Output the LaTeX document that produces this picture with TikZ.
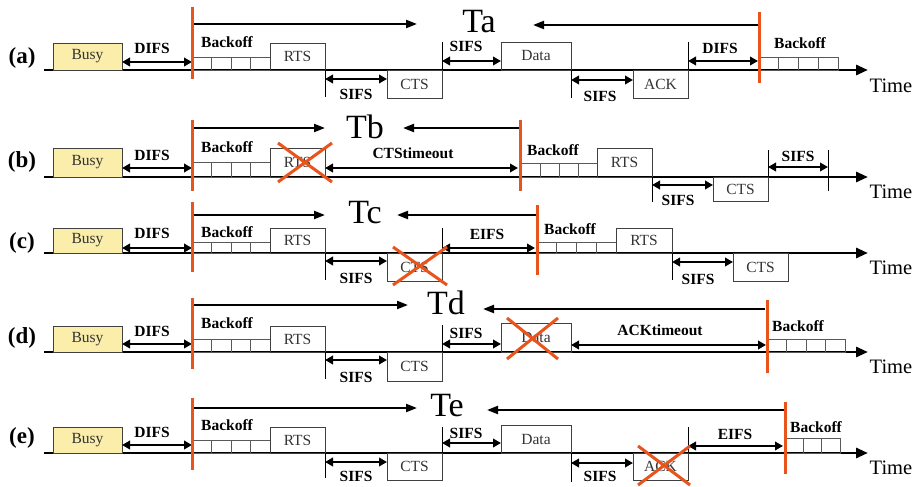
\documentclass[tikz,border=0pt]{standalone}
\usepackage{fontspec}
\setmainfont{Liberation Serif}
\usetikzlibrary{arrows.meta}
\definecolor{busyc}{RGB}{251,237,170}
\definecolor{orc}{RGB}{232,84,28}
\tikzset{
 tline/.style={line width=2.9pt,-{Triangle[length=12pt,width=10pt]}},
 dbl/.style={line width=2.7pt,{Triangle[length=8pt,width=8.5pt]}-{Triangle[length=8pt,width=8.5pt]}},
 topar/.style={line width=2.1pt,-{Triangle[length=11pt,width=8pt]}},
 orl/.style={draw=orc,line width=3pt},
 tick/.style={line width=1pt},
 frm/.style={draw=black!75,line width=0.8pt,inner sep=0pt,text=black!80,font=\fontsize{15.5}{15.5}\selectfont},
 busybox/.style={frm,fill=busyc},
 slotst/.style={draw=black!65,line width=0.7pt},
 blab/.style={font=\bfseries\fontsize{15.5}{15.5}\selectfont,inner sep=0pt},
 bigT/.style={font=\fontsize{34}{34}\selectfont,inner sep=0pt},
 timel/.style={font=\fontsize{20.5}{20.5}\selectfont,inner sep=0pt},
 rowl/.style={font=\bfseries\fontsize{23}{23}\selectfont,inner sep=0pt},
}
\newcommand\pbox[7][frm]{\node[#1,minimum width={(#5-#3)*1pt},minimum height={(#6-#4)*1pt}] (#2) at ({(#3+#5)/2},{(#4+#6)/2}) {\raisebox{-1.5pt}{#7}};}
\newcommand\bkslots[5]{\foreach \i in {1,...,#4}{\draw[slotst] ({#1+(\i-1)*#5},#2) rectangle ({#1+\i*#5},#3);}}
\begin{document}
\begin{tikzpicture}[x=1pt,y=-1pt]
\useasboundingbox (0,0) rectangle (921,487);
% ================= Row (a)
\draw[tline] (44,70) -- (868,70);
\node[rowl] (la) at (22,58) {(a)};
\pbox[busybox]{busyA}{53}{43}{122}{70}{Busy}
\bkslots{192}{57}{70}{4}{19.5}
\pbox{rtsA}{270}{43}{325}{70}{RTS}
\pbox{ctsA}{387}{70}{442}{98}{CTS}
\pbox{dataA}{501}{42}{571}{70}{Data}
\pbox{ackA}{633}{70}{688}{98}{ACK}
\bkslots{759}{57}{70}{4}{19.75}
\draw[tick] (325,70) -- (325,97);
\draw[tick] (442,42) -- (442,70);
\draw[tick] (571,70) -- (571,98);
\draw[tick] (688,42) -- (688,70);
\draw[dbl] (122,62) -- (192,62);
\draw[dbl] (325,79) -- (387,79);
\draw[dbl] (442,61) -- (501,61);
\draw[dbl] (571,80) -- (633,80);
\draw[dbl] (688,61) -- (758,61);
\node[blab] at (152,48) {DIFS};
\node[blab] at (227,42) {Backoff};
\node[blab] at (356,94) {SIFS};
\node[blab] at (466,46) {SIFS};
\node[blab] at (600,96) {SIFS};
\node[blab] at (720,48) {DIFS};
\node[blab] at (800,43) {Backoff};
\draw[topar] (193,24) -- (417,24);
\draw[topar] (759,25) -- (533,25);
\node[bigT] (Ta) at (479,22) {Ta};
\draw[orl] (192,7) -- (192,79);
\draw[orl] (759,12) -- (759,83);
\node[timel] at (891,86) {Time};
% ================= Row (b)
\draw[tline] (44,177) -- (868,177);
\node[rowl] (lb) at (22,162) {(b)};
\pbox[busybox]{busyB}{53}{148}{122}{177}{Busy}
\bkslots{192}{162}{177}{4}{19.5}
\pbox{rtsB}{270}{148}{325}{177}{RTS}
\bkslots{521}{163}{177}{4}{19}
\pbox{rtsB2}{597}{148}{652}{177}{RTS}
\pbox{ctsB}{713}{177}{768}{201}{CTS}
\draw[tick] (652,177) -- (652,202);
\draw[tick] (768,150) -- (768,177);
\draw[tick] (828,150) -- (828,191);
\draw[dbl] (122,168) -- (192,168);
\draw[dbl] (325,168) -- (518,168);
\draw[dbl] (652,185) -- (713,185);
\draw[dbl] (768,167) -- (828,167);
\node[blab] at (152,155) {DIFS};
\node[blab] at (227,147) {Backoff};
\node[blab] at (413,153) {CTStimeout};
\node[blab] at (553,150) {Backoff};
\node[blab] at (678,200) {SIFS};
\node[blab] at (798,156) {SIFS};
\draw[topar] (193,128) -- (325,128);
\draw[topar] (520,128) -- (403,128);
\node[bigT] (Tb) at (365,127) {Tb};
\draw[orl] (192,120) -- (192,191);
\draw[orl] (520,120) -- (520,191);
\draw[orl] (278,143) -- (332,182) (278,182) -- (332,143);
\node[timel] at (891,192) {Time};
% ================= Row (c)
\draw[tline] (44,253) -- (868,253);
\node[rowl] (lc) at (22,243) {(c)};
\pbox[busybox]{busyC}{53}{228}{122}{253}{Busy}
\bkslots{192}{242}{253}{4}{19.5}
\pbox{rtsC}{270}{228}{325}{253}{RTS}
\pbox{ctsC}{387}{253}{442}{281}{CTS}
\bkslots{537}{242}{253}{4}{19.75}
\pbox{rtsC2}{616}{228}{672}{253}{RTS}
\pbox{ctsC2}{733}{253}{788}{281}{CTS}
\draw[tick] (325,253) -- (325,280);
\draw[tick] (442,228) -- (442,253);
\draw[tick] (672,253) -- (672,280);
\draw[dbl] (122,248) -- (192,248);
\draw[dbl] (325,261) -- (387,261);
\draw[dbl] (442,248) -- (535,248);
\draw[dbl] (672,262) -- (733,262);
\node[blab] at (152,233) {DIFS};
\node[blab] at (227,232) {Backoff};
\node[blab] at (356,278) {SIFS};
\node[blab] at (487,234) {EIFS};
\node[blab] at (570,229) {Backoff};
\node[blab] at (698,279) {SIFS};
\draw[topar] (193,215) -- (325,215);
\draw[topar] (538,215) -- (397,215);
\node[bigT] (Tc) at (365,213) {Tc};
\draw[orl] (192,202) -- (192,272);
\draw[orl] (537,205) -- (537,275);
\draw[orl] (393,247) -- (447,285) (393,285) -- (447,247);
\node[timel] at (891,268) {Time};
% ================= Row (d)
\draw[tline] (44,352) -- (868,352);
\node[rowl] (ld) at (22,338) {(d)};
\pbox[busybox]{busyD}{53}{326}{122}{352}{Busy}
\bkslots{192}{339}{352}{4}{19.5}
\pbox{rtsD}{270}{326}{325}{352}{RTS}
\pbox{ctsD}{387}{352}{442}{381}{CTS}
\pbox{dataD}{501}{323}{571}{352}{Data}
\bkslots{767}{339}{352}{4}{19.5}
\draw[tick] (325,352) -- (325,379);
\draw[tick] (442,325) -- (442,352);
\draw[dbl] (122,344) -- (192,344);
\draw[dbl] (325,360) -- (387,360);
\draw[dbl] (442,344) -- (501,344);
\draw[dbl] (571,345) -- (766,345);
\node[blab] at (152,331) {DIFS};
\node[blab] at (227,323) {Backoff};
\node[blab] at (356,377) {SIFS};
\node[blab] at (466,333) {SIFS};
\node[blab] at (660,330) {ACKtimeout};
\node[blab] at (798,326) {Backoff};
\draw[topar] (193,305) -- (408,305);
\draw[topar] (765,309) -- (483,309);
\node[bigT] (Td) at (446,303) {Td};
\draw[orl] (192,298) -- (192,369);
\draw[orl] (767,300) -- (767,373);
\draw[orl] (507,318) -- (558,359) (507,359) -- (558,318);
\node[timel] at (891,367) {Time};
% ================= Row (e)
\draw[tline] (44,453) -- (868,453);
\node[rowl] (le) at (22,438) {(e)};
\pbox[busybox]{busyE}{53}{427}{122}{453}{Busy}
\bkslots{192}{440}{453}{4}{19.5}
\pbox{rtsE}{270}{427}{325}{453}{RTS}
\pbox{ctsE}{387}{453}{442}{480}{CTS}
\pbox{dataE}{501}{425}{571}{453}{Data}
\pbox{ackE}{633}{453}{688}{480}{ACK}
\bkslots{785}{438}{453}{3}{18.3}
\draw[tick] (325,453) -- (325,478);
\draw[tick] (442,427) -- (442,453);
\draw[tick] (571,453) -- (571,482);
\draw[tick] (688,427) -- (688,453);
\draw[dbl] (122,445) -- (192,445);
\draw[dbl] (325,462) -- (387,462);
\draw[dbl] (442,443) -- (501,443);
\draw[dbl] (571,463) -- (633,463);
\draw[dbl] (688,446) -- (783,446);
\node[blab] at (152,432) {DIFS};
\node[blab] at (227,425) {Backoff};
\node[blab] at (356,476) {SIFS};
\node[blab] at (466,433) {SIFS};
\node[blab] at (600,476) {SIFS};
\node[blab] at (735,434) {EIFS};
\node[blab] at (816,427) {Backoff};
\draw[topar] (193,408) -- (417,408);
\draw[topar] (784,410) -- (487,410);
\node[bigT] (Te) at (447,406) {Te};
\draw[orl] (192,398) -- (192,470);
\draw[orl] (785,402) -- (785,474);
\draw[orl] (638,446) -- (690,485) (638,485) -- (690,446);
\node[timel] at (891,468) {Time};
\end{tikzpicture}
\end{document}
